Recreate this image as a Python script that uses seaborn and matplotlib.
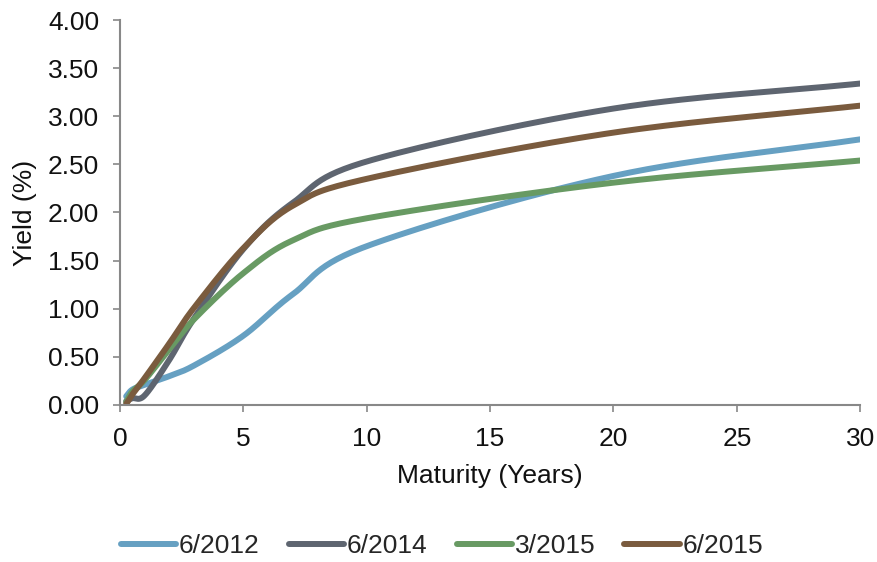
import numpy as np
import pandas as pd
import matplotlib
matplotlib.use("Agg")
import matplotlib.pyplot as plt
import seaborn as sns

# Treasury yield curves (maturity in years, yield in %)
maturity = [0.25, 0.5, 1, 2, 3, 5, 7, 10, 20, 30]
y_2012_06 = [0.09, 0.16, 0.21, 0.30, 0.41, 0.72, 1.15, 1.65, 2.38, 2.76]
y_2014_06 = [0.04, 0.07, 0.10, 0.47, 0.90, 1.62, 2.10, 2.53, 3.08, 3.34]
y_2015_03 = [0.03, 0.14, 0.26, 0.58, 0.89, 1.37, 1.71, 1.94, 2.31, 2.54]
y_2015_06 = [0.01, 0.11, 0.28, 0.64, 1.01, 1.63, 2.07, 2.35, 2.83, 3.11]
series_names = ["6/2012", "6/2014", "3/2015", "6/2015"]
colors = ["#66A0C2", "#5E6570", "#689A63", "#7A5B3E"]


def smooth(x, y, n=30):
    """Catmull-Rom style smoothing between consecutive points (as in smoothed line charts)."""
    x = np.asarray(x, float)
    y = np.asarray(y, float)
    px = np.concatenate([[2 * x[0] - x[1]], x, [2 * x[-1] - x[-2]]])
    py = np.concatenate([[2 * y[0] - y[1]], y, [2 * y[-1] - y[-2]]])
    xs, ys = [], []
    for i in range(1, len(px) - 2):
        p0 = np.array([px[i - 1], py[i - 1]])
        p1 = np.array([px[i], py[i]])
        p2 = np.array([px[i + 1], py[i + 1]])
        p3 = np.array([px[i + 2], py[i + 2]])
        c1 = p1 + (p2 - p0) / 6.0
        c2 = p2 - (p3 - p1) / 6.0
        t = np.linspace(0, 1, n, endpoint=(i == len(px) - 3))[:, None]
        pts = ((1 - t) ** 3) * p1 + 3 * ((1 - t) ** 2) * t * c1 + 3 * (1 - t) * t ** 2 * c2 + t ** 3 * p2
        xs.append(pts[:, 0])
        ys.append(pts[:, 1])
    return np.concatenate(xs), np.concatenate(ys)


frames = []
for name, vals in zip(series_names, [y_2012_06, y_2014_06, y_2015_03, y_2015_06]):
    sx, sy = smooth(maturity, vals)
    frames.append(pd.DataFrame({"Maturity": sx, "Yield": sy, "Series": name}))
df = pd.concat(frames, ignore_index=True)

sns.set_theme(style="white")
plt.rcParams["font.family"] = ["Liberation Sans", "DejaVu Sans"]

FS = 19
LW = 4.3
TXT = "#111111"

fig = plt.figure(figsize=(8.78, 5.62), dpi=100)
ax = fig.add_axes([0.1367, 0.2794, 0.843, 0.685])

sns.lineplot(data=df, x="Maturity", y="Yield", hue="Series", hue_order=series_names,
             palette=colors, linewidth=LW, sort=False, estimator=None, ax=ax,
             legend=False, solid_capstyle="round")

ax.set_xlim(0, 30)
ax.set_ylim(0, 4.0)
ax.set_xticks([0, 5, 10, 15, 20, 25, 30])
ax.set_yticks(np.arange(0, 4.01, 0.5))
ax.set_yticklabels([f"{v:.2f}" for v in np.arange(0, 4.01, 0.5)])
ax.set_xlabel("Maturity (Years)", fontsize=FS, color=TXT, labelpad=9)
ax.set_ylabel("Yield (%)", fontsize=FS, color=TXT, labelpad=8)
ax.tick_params(axis="both", labelsize=FS, colors=TXT, length=5, width=1.2,
               color="#888888", direction="out", bottom=True, left=True)
ax.tick_params(axis="y", pad=10)
ax.tick_params(axis="x", pad=11)
for side in ["top", "right"]:
    ax.spines[side].set_visible(False)
for side in ["left", "bottom"]:
    ax.spines[side].set_color("#888888")
    ax.spines[side].set_linewidth(1.5)

handles = [plt.Line2D([0], [0], color=c, lw=LW, solid_capstyle="round") for c in colors]
fig.legend(handles, series_names, loc="center", bbox_to_anchor=(442 / 878, 1 - 546 / 562),
           ncol=4, frameon=False, fontsize=FS, handlelength=2.1, handletextpad=0.1,
           columnspacing=1.1, borderpad=0, borderaxespad=0)

fig.savefig("out.png", dpi=100)
